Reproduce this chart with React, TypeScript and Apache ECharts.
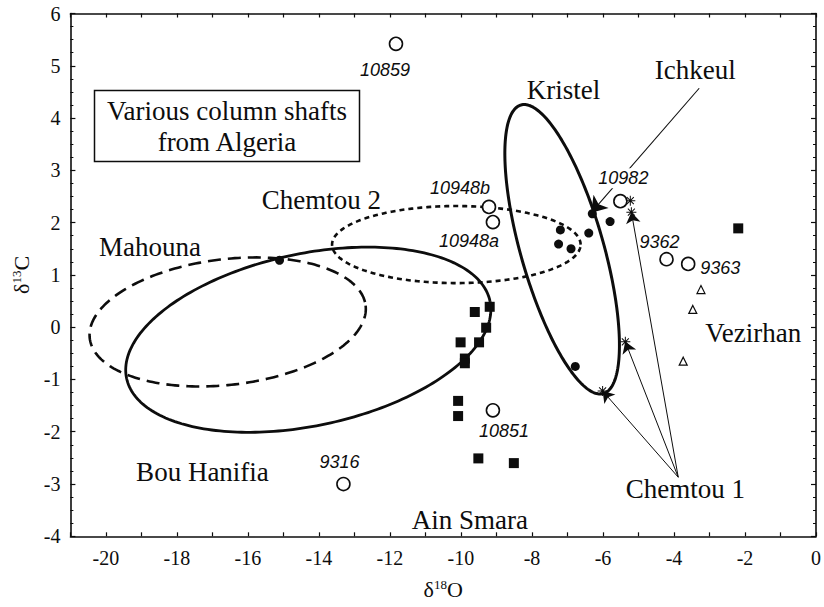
import React, { useEffect, useRef } from "react";
import * as echarts from "echarts";

// Axis tick labels
const xTickLabels = [-20, -18, -16, -14, -12, -10, -8, -6, -4, -2, 0];
const yTickLabels = [-4, -3, -2, -1, 0, 1, 2, 3, 4, 5, 6];

// Labelled samples (open circles)
const sampleNames = ["10859", "10948b", "10948a", "10982", "9362", "9363", "10851", "9316"];
const sampleO18 = [-11.83, -9.21, -9.1, -5.51, -4.21, -3.6, -9.1, -13.31];
const sampleC13 = [5.42, 2.3, 2.01, 2.41, 1.3, 1.21, -1.59, -3.0];

// Ain Smara and other filled squares
const squareO18 = [-9.19, -9.61, -9.29, -10.01, -9.49, -9.89, -9.89, -10.08, -10.08, -9.51, -8.51, -2.19];
const squareC13 = [0.39, 0.29, -0.01, -0.29, -0.29, -0.6, -0.69, -1.41, -1.7, -2.51, -2.6, 1.89];

// Vezirhan (open triangles)
const triangleO18 = [-3.24, -3.47, -3.74];
const triangleC13 = [0.72, 0.34, -0.65];

// Filled dots
const dotO18 = [-7.2, -7.25, -6.9, -6.4, -5.8, -6.78, -15.11, -6.3];
const dotC13 = [1.86, 1.59, 1.5, 1.8, 2.02, -0.75, 1.28, 2.17];

// Chemtou 1 (asterisks)
const starO18 = [-5.23, -5.2, -5.37, -6.01];
const starC13 = [2.42, 2.2, -0.28, -1.22];

// Quarry fields: centre and two conjugate semi-axes (δ18O, δ13C units)
const fieldNames = ["Mahouna", "Bou Hanifia", "Chemtou 2", "Kristel"];
const fieldCentre = [[-16.57, 0.1], [-14.3, -0.24], [-10.13, 1.58], [-7.15, 1.49]];
const fieldAxisA = [[3.885, 0.313], [5.118, 0.738], [3.5, 0], [-1.161, 2.76]];
const fieldAxisB = [[0.207, -1.194], [0.5, -1.61], [0, 0.737], [1.121, 0.219]];

// Pointer lines: Chemtou 1 label to its three samples, Ichkeul label to its sample
const chemtou1From = [-3.88, -2.87];
const chemtou1To = [[-5.2, 2.2], [-5.37, -0.28], [-6.01, -1.22]];
const ichkeulFrom = [-3.29, 4.57];
const ichkeulTo = [-6.33, 2.19];

// Region names
const regionNames = ["Mahouna", "Chemtou 2", "Kristel", "Ichkeul", "Vezirhan", "Bou Hanifia", "Ain Smara", "Chemtou 1"];
const regionO18 = [-18.76, -13.93, -7.11, -3.4, -1.77, -17.28, -9.75, -3.68];
const regionC13 = [1.53, 2.43, 4.54, 4.92, -0.11, -2.77, -3.68, -3.1];

const INK = "#0d0d0d";
const SERIF = "'Liberation Serif', 'Times New Roman', serif";
const SANS = "'Liberation Sans', Arial, sans-serif";

const fieldStyles: Record<string, { width: number; dash: number[] | null }> = {
  Mahouna: { width: 2.6, dash: [13, 7] },
  "Bou Hanifia": { width: 2.8, dash: null },
  "Chemtou 2": { width: 2.6, dash: [5, 4] },
  Kristel: { width: 3, dash: null },
};

const sampleLabelOffsets: Record<string, number[]> = {
  "10859": [-11, 26],
  "10948b": [-29, -19],
  "10948a": [-24, 19],
  "10982": [3, -23],
  "9362": [-7, -17],
  "9363": [32, 4],
  "10851": [11, 21],
  "9316": [-4, -22],
};

const ASTERISK =
  "path://M-0.5,-5L0.5,-5L0.5,5L-0.5,5Z M-5,-0.5L5,-0.5L5,0.5L-5,0.5Z " +
  "M-3.146,-3.854L3.854,3.146L3.146,3.854L-3.854,-3.146Z " +
  "M-3.854,3.146L3.146,-3.854L3.854,-3.146L-3.146,3.854Z";

const pairs = (xs: number[], ys: number[]) => xs.map((x, i) => [x, ys[i]]);

export default function App() {
  const ref = useRef<HTMLDivElement>(null);

  useEffect(() => {
    if (!ref.current) return;
    const chart = echarts.init(ref.current, null, { renderer: "svg" });

    const tickLabelStyle = { fontFamily: SERIF, fontSize: 20, color: INK };
    const axisNameRich = {
      d: { fontFamily: SERIF, fontSize: 22, color: INK },
      s: { fontFamily: SERIF, fontSize: 13, color: INK, verticalAlign: "top", padding: [0, 0, 8, 0] },
    };

    const option: any = {
      animation: false,
      backgroundColor: "#fff",
      grid: { left: 70.4, right: 5.7, top: 13.5, bottom: 70.7, containLabel: false },
      xAxis: [
        {
          type: "value",
          min: -21,
          max: 0,
          interval: 1,
          position: "bottom",
          axisLine: { show: true, onZero: false, lineStyle: { color: INK, width: 1.6 } },
          axisTick: { show: true, inside: true, length: 4, lineStyle: { color: INK, width: 1.2 } },
          axisLabel: {
            ...tickLabelStyle,
            margin: 12,
            formatter: (v: number) => (xTickLabels.includes(v) ? String(v) : ""),
          },
          splitLine: { show: false },
          name: "{d|δ}{s|18}{d|O}",
          nameLocation: "middle",
          nameGap: 42,
          nameTextStyle: { rich: axisNameRich },
        },
        {
          type: "value",
          min: -21,
          max: 0,
          interval: 1,
          position: "top",
          axisLine: { show: true, onZero: false, lineStyle: { color: INK, width: 1.6 } },
          axisTick: { show: true, inside: true, length: 4, lineStyle: { color: INK, width: 1.2 } },
          axisLabel: { show: false },
          splitLine: { show: false },
        },
      ],
      yAxis: [
        {
          type: "value",
          min: -4,
          max: 6,
          interval: 1,
          position: "left",
          axisLine: { show: true, onZero: false, lineStyle: { color: INK, width: 1.6 } },
          axisTick: { show: true, inside: true, length: 5, lineStyle: { color: INK, width: 1.2 } },
          minorTick: { show: true, splitNumber: 4, length: 3, lineStyle: { color: INK, width: 1 } },
          axisLabel: {
            ...tickLabelStyle,
            margin: 10,
            formatter: (v: number) => (yTickLabels.includes(v) ? String(v) : ""),
          },
          splitLine: { show: false },
          name: "{d|δ}{s|13}{d|C}",
          nameLocation: "middle",
          nameGap: 38,
          nameTextStyle: { rich: axisNameRich },
        },
        {
          type: "value",
          min: -4,
          max: 6,
          interval: 1,
          position: "right",
          axisLine: { show: true, onZero: false, lineStyle: { color: INK, width: 1.6 } },
          axisTick: { show: true, inside: true, length: 5, lineStyle: { color: INK, width: 1.2 } },
          minorTick: { show: true, splitNumber: 4, length: 3, lineStyle: { color: INK, width: 1 } },
          axisLabel: { show: false },
          splitLine: { show: false },
        },
      ],
      graphic: [
        {
          type: "rect",
          shape: { x: 94.5, y: 90.5, width: 265, height: 71 },
          style: { fill: "#fff", stroke: INK, lineWidth: 1.5 },
          z: 10,
        },
        {
          type: "text",
          x: 227,
          y: 111,
          style: {
            text: "Various column shafts",
            font: `27px ${SERIF}`,
            fill: INK,
            align: "center",
            verticalAlign: "middle",
          },
          z: 11,
        },
        {
          type: "text",
          x: 227,
          y: 142,
          style: {
            text: "from Algeria",
            font: `27px ${SERIF}`,
            fill: INK,
            align: "center",
            verticalAlign: "middle",
          },
          z: 11,
        },
      ],
      series: [
        {
          type: "custom",
          name: "fields",
          silent: true,
          z: 2,
          data: fieldNames.map((n, i) => [
            fieldCentre[i][0],
            fieldCentre[i][1],
            fieldAxisA[i][0],
            fieldAxisA[i][1],
            fieldAxisB[i][0],
            fieldAxisB[i][1],
          ]),
          renderItem: (params: any, api: any) => {
            const cx = api.value(0);
            const cy = api.value(1);
            const ax = api.value(2);
            const ay = api.value(3);
            const bx = api.value(4);
            const by = api.value(5);
            const pts: number[][] = [];
            const n = 240;
            for (let k = 0; k <= n; k++) {
              const t = (k / n) * Math.PI * 2;
              pts.push(api.coord([cx + ax * Math.cos(t) + bx * Math.sin(t), cy + ay * Math.cos(t) + by * Math.sin(t)]));
            }
            const st = fieldStyles[fieldNames[params.dataIndex]];
            return {
              type: "polyline",
              shape: { points: pts },
              style: {
                fill: "none",
                stroke: INK,
                lineWidth: st.width,
                lineDash: st.dash || undefined,
              },
            };
          },
        },
        {
          type: "lines",
          coordinateSystem: "cartesian2d",
          silent: true,
          z: 3,
          symbol: ["none", "arrow"],
          symbolSize: 11,
          lineStyle: { color: INK, width: 1, opacity: 1 },
          data: chemtou1To.map((to) => ({ coords: [chemtou1From, to] })),
        },
        {
          type: "lines",
          coordinateSystem: "cartesian2d",
          silent: true,
          z: 3,
          symbol: ["none", "arrow"],
          symbolSize: 15,
          lineStyle: { color: INK, width: 1.1, opacity: 1 },
          data: [{ coords: [ichkeulFrom, ichkeulTo] }],
        },
        {
          type: "scatter",
          name: "squares",
          silent: true,
          z: 4,
          symbol: "rect",
          symbolSize: 10,
          itemStyle: { color: INK, opacity: 1 },
          data: pairs(squareO18, squareC13),
        },
        {
          type: "scatter",
          name: "dots",
          silent: true,
          z: 4,
          symbol: "circle",
          symbolSize: 9,
          itemStyle: { color: INK, opacity: 1 },
          data: pairs(dotO18, dotC13),
        },
        {
          type: "scatter",
          name: "triangles",
          silent: true,
          z: 4,
          symbol: "triangle",
          symbolSize: 8,
          itemStyle: { color: "#fff", borderColor: INK, borderWidth: 1.2, opacity: 1 },
          data: pairs(triangleO18, triangleC13),
        },
        {
          type: "scatter",
          name: "Chemtou 1",
          silent: true,
          z: 4,
          symbol: ASTERISK,
          symbolSize: 10,
          itemStyle: { color: INK, opacity: 1 },
          data: pairs(starO18, starC13),
        },
        {
          type: "scatter",
          name: "samples",
          silent: true,
          z: 5,
          symbol: "circle",
          symbolSize: 13,
          itemStyle: { color: "#fff", borderColor: INK, borderWidth: 1.6, opacity: 1 },
          label: {
            show: true,
            position: "inside",
            formatter: "{b}",
            fontFamily: SANS,
            fontStyle: "italic",
            fontSize: 18,
            color: INK,
            opacity: 1,
          },
          data: sampleNames.map((n, i) => ({
            name: n,
            value: [sampleO18[i], sampleC13[i]],
            label: {
              offset: sampleLabelOffsets[n],
              ...(n === "10982" ? { backgroundColor: "#fff", padding: [1, 2] } : {}),
            },
          })),
        },
        {
          type: "scatter",
          name: "regions",
          silent: true,
          z: 6,
          symbolSize: 0,
          itemStyle: { opacity: 1 },
          label: {
            show: true,
            position: "inside",
            formatter: "{b}",
            fontFamily: SERIF,
            fontSize: 27,
            color: INK,
            opacity: 1,
          },
          data: regionNames.map((n, i) => ({ name: n, value: [regionO18[i], regionC13[i]] })),
        },
      ],
    };

    chart.setOption(option);
    return () => chart.dispose();
  }, []);

  return (
    <div
      ref={ref}
      style={{ position: "fixed", left: 0, top: 0, width: 824, height: 607, background: "#fff" }}
    />
  );
}
